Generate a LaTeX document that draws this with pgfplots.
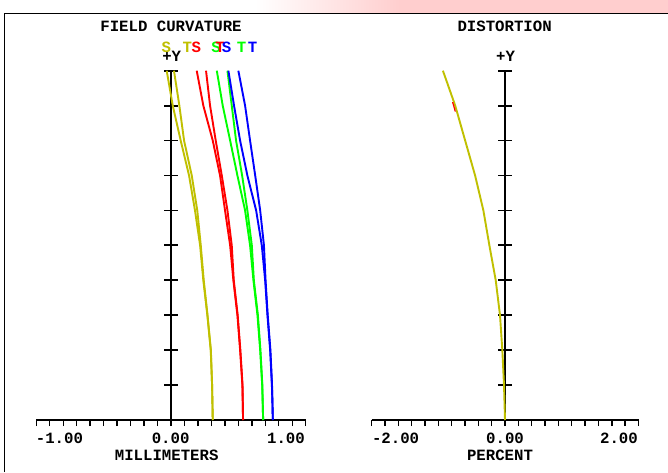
\documentclass[border=0pt]{standalone}
\usepackage{pgfplots}
\pgfplotsset{compat=1.18}
\usepackage{fontspec}
\newfontfamily\zfont{Liberation Mono}
\definecolor{zyel}{RGB}{192,192,0}
\definecolor{zred}{RGB}{255,0,0}
\definecolor{zgrn}{RGB}{0,255,0}
\definecolor{zblu}{RGB}{0,0,255}
\definecolor{zpink}{RGB}{255,206,206}
\pgfplotsset{
  zgeom/.style={scale only axis, clip=false, anchor=south west,
    height=349.3pt, ymin=0, ymax=1},
  zxaxis/.style={zgeom, axis x line*=bottom, axis y line=none,
    tick align=outside, major tick length=6pt,
    xticklabels={}, axis line style={line width=1.3pt},
    xtick style={line width=1.4pt, black}},
  zyaxis/.style={zgeom, axis x line=none, axis y line*=middle,
    tick align=center, major tick length=14pt,
    ytick={0.1,0.2,0.3,0.4,0.5,0.6,0.7,0.8,0.9,1.0}, yticklabels={},
    axis line style={line width=1.2pt},
    ytick style={line width=1.8pt, black}},
  zc/.style={line width=1.9pt, line join=round}
}
\begin{document}
\begin{tikzpicture}
\path[use as bounding box] (0pt,0pt) rectangle (668pt,472pt);
\fill[white] (0pt,0pt) rectangle (668pt,472pt);
\shade[left color=white, right color=zpink] (255pt,459pt) rectangle (400pt,472pt);
\fill[zpink] (399pt,459pt) rectangle (668pt,472pt);
\draw[line width=1.6pt] (4.5pt,0pt) -- (4.5pt,458.3pt) -- (668pt,458.3pt);

% ---------- Field curvature ----------
\begin{axis}[zxaxis, at={(36.3pt,52pt)}, width=269.4pt, xmin=-1, xmax=1,
  xtick={-1,-0.9,-0.8,-0.7,-0.6,-0.5,-0.4,-0.3,-0.2,-0.1,0,0.1,0.2,0.3,0.4,0.5,0.6,0.7,0.8,0.9,1}]
\end{axis}
\begin{axis}[zyaxis, at={(36.3pt,52pt)}, width=269.4pt, xmin=-1, xmax=1]
\addplot[zc, zyel] coordinates {(-0.032,1.0)(0.013,0.9)(0.072,0.8)(0.134,0.7)(0.178,0.6)(0.216,0.5)(0.240,0.4)(0.270,0.3)(0.295,0.2)(0.305,0.1)(0.310,0)};
\addplot[zc, zyel] coordinates {(0.022,1.0)(0.062,0.9)(0.097,0.8)(0.154,0.7)(0.195,0.6)(0.221,0.5)(0.243,0.4)(0.271,0.3)(0.296,0.2)(0.305,0.1)(0.310,0)};
\addplot[zc, zred] coordinates {(0.191,1.0)(0.240,0.9)(0.310,0.8)(0.364,0.7)(0.401,0.6)(0.439,0.5)(0.463,0.4)(0.493,0.3)(0.513,0.2)(0.530,0.1)(0.535,0)};
\addplot[zc, zred] coordinates {(0.260,1.0)(0.290,0.9)(0.332,0.8)(0.377,0.7)(0.419,0.6)(0.451,0.5)(0.466,0.4)(0.495,0.3)(0.515,0.2)(0.531,0.1)(0.535,0)};
\addplot[zc, zgrn] coordinates {(0.340,1.0)(0.384,0.9)(0.439,0.8)(0.493,0.7)(0.550,0.6)(0.587,0.5)(0.612,0.4)(0.642,0.3)(0.662,0.2)(0.677,0.1)(0.684,0)};
\addplot[zc, zgrn] coordinates {(0.419,1.0)(0.451,0.9)(0.483,0.8)(0.528,0.7)(0.567,0.6)(0.600,0.5)(0.615,0.4)(0.645,0.3)(0.664,0.2)(0.678,0.1)(0.684,0)};
\addplot[zc, zblu] coordinates {(0.426,1.0)(0.468,0.9)(0.513,0.8)(0.567,0.7)(0.632,0.6)(0.674,0.5)(0.699,0.4)(0.716,0.3)(0.736,0.2)(0.749,0.1)(0.753,0.05)(0.756,0)};
\addplot[zc, zblu] coordinates {(0.500,1.0)(0.550,0.9)(0.587,0.8)(0.625,0.7)(0.662,0.6)(0.690,0.5)(0.702,0.4)(0.718,0.3)(0.738,0.2)(0.750,0.1)(0.753,0.05)(0.756,0)};
\end{axis}

% ---------- Distortion ----------
\begin{axis}[zxaxis, at={(371.5pt,52pt)}, width=267pt, xmin=-2, xmax=2,
  xtick={-2,-1.8,-1.6,-1.4,-1.2,-1,-0.8,-0.6,-0.4,-0.2,0,0.2,0.4,0.6,0.8,1,1.2,1.4,1.6,1.8,2}]
\end{axis}
\begin{axis}[zyaxis, at={(371.5pt,52pt)}, width=267pt, xmin=-2, xmax=2]
\addplot[zc, zyel] coordinates {(-0.930,1.0)(-0.746,0.9)(-0.597,0.8)(-0.448,0.7)(-0.324,0.6)(-0.234,0.5)(-0.139,0.4)(-0.075,0.3)(-0.040,0.2)(-0.015,0.1)(0,0)};
\addplot[line width=1.2pt, zred] coordinates {(-0.785,0.910)(-0.762,0.895)(-0.745,0.883)};
\end{axis}

% ---------- Text ----------
\begin{scope}[every node/.style={inner sep=0pt, font=\zfont\bfseries\fontsize{15.7}{16}\selectfont}]
\node at (171pt,445.3pt) {FIELD CURVATURE};
\node at (504.6pt,445.3pt) {DISTORTION};
\node at (171.7pt,416pt) {+Y};
\node at (505.5pt,415.7pt) {+Y};
\node[anchor=west] at (35.7pt,34pt) {-1.00};
\node at (170.6pt,34pt) {0.00};
\node[anchor=east] at (305pt,34pt) {1.00};
\node at (166.7pt,16.5pt) {MILLIMETERS};
\node[anchor=west] at (371.8pt,34pt) {-2.00};
\node at (505pt,34pt) {0.00};
\node[anchor=east] at (638pt,34pt) {2.00};
\node at (500pt,16.5pt) {PERCENT};
\node[text=zyel] at (166.3pt,424.5pt) {S};
\node[text=zyel] at (187.3pt,424.5pt) {T};
\node[text=zred] at (196.3pt,424.5pt) {S};
\node[text=zgrn] at (216pt,424.5pt) {S};
\node[text=zred] at (220pt,424.5pt) {T};
\node[text=zblu] at (226.7pt,424.5pt) {S};
\node[text=zgrn] at (241.7pt,424.5pt) {T};
\node[text=zblu] at (252.7pt,424.5pt) {T};
\end{scope}
\end{tikzpicture}
\end{document}
